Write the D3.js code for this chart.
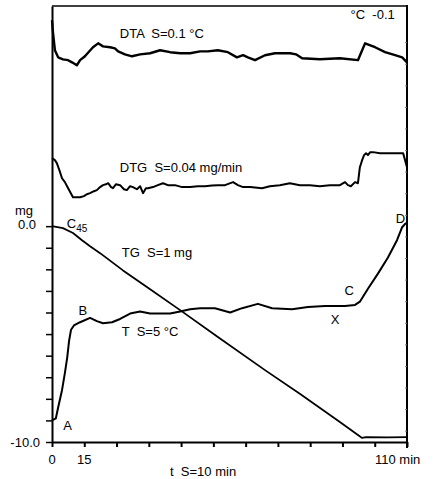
<!DOCTYPE html>
<html>
<head>
<meta charset="utf-8">
<script src="https://cdn.jsdelivr.net/npm/d3@7"></script>
<style>
  body { margin: 0; background: #fff; }
  text { font-family: "Liberation Sans", Arial, sans-serif; fill: #000; white-space: pre; }
</style>
</head>
<body>
<div id="chart"></div>
<script>
// DATA (time in min, values in mg-axis divisions; TG in mg)
const tgTime = [0, 3.4, 6.5, 9.3, 11.8, 14.9, 22, 29.4, 39.7, 51.4, 66.0, 76.9, 89.2, 96.1, 97.3, 104, 110];
const tgValue = [0, -0.09, -0.32, -0.65, -0.93, -1.25, -2.05, -2.82, -3.89, -5.14, -6.67, -7.78, -9.07, -9.81, -9.77, -9.79, -9.77];

const tTime = [0, 1.2, 1.9, 3.1, 4.0, 4.7, 5.3, 5.9, 6.8, 8.7, 11.8, 13.9, 15.8, 18.6, 21.1, 24.2, 27.3, 30.4, 33.5, 36.6, 39.7, 42.8, 45.9, 50.5, 55.2, 58.9, 63.8, 68.2, 74.4, 79.3, 84.6, 90.8, 93.9, 95.4, 97.9, 101.0, 104.1, 106.9, 108.5, 109.7];
const tValue = [-9.0, -8.9, -8.4, -7.6, -6.8, -6.1, -5.3, -4.8, -4.6, -4.45, -4.25, -4.4, -4.5, -4.45, -4.3, -4.05, -3.95, -4.05, -4.05, -4.05, -3.95, -3.85, -3.8, -3.8, -4.0, -3.8, -3.6, -3.8, -3.85, -3.75, -3.7, -3.7, -3.65, -3.5, -2.9, -2.2, -1.45, -0.65, -0.05, 0.15];

const dtaTime = [0, 0.3, 0.9, 1.9, 3.4, 5.0, 6.2, 7.7, 8.7, 10.2, 12.7, 14.3, 15.8, 18.0, 19.5, 20.5, 22.6, 24.8, 27.3, 30.4, 33.5, 36.6, 39.7, 42.8, 45.9, 48.3, 51.4, 54.5, 57.3, 59.2, 60.7, 62.9, 66.0, 69.1, 73.8, 75.6, 77.5, 83.0, 89.2, 94.8, 96.1, 97.0, 100.1, 103.2, 106.3, 108.5, 110];
const dtaValue = [9.54, 8.98, 8.15, 7.82, 7.73, 7.69, 7.59, 7.45, 7.69, 7.87, 8.29, 8.47, 8.33, 8.29, 8.24, 8.10, 7.96, 7.87, 7.96, 8.01, 8.15, 8.06, 8.01, 8.01, 8.10, 8.10, 8.15, 8.06, 7.82, 7.92, 7.82, 7.69, 7.92, 8.01, 8.01, 7.96, 7.78, 7.73, 7.78, 7.69, 8.15, 8.47, 8.29, 8.06, 7.92, 7.82, 7.59];

const dtgTime = [0, 0.9, 1.5, 2.5, 3.1, 4.0, 5.0, 6.5, 8.7, 9.9, 10.8, 11.8, 13.0, 13.9, 14.9, 15.8, 16.7, 17.4, 18.3, 18.9, 19.8, 21.1, 22.3, 23.2, 24.2, 25.1, 26.3, 27.3, 28.2, 29.1, 29.7, 31.3, 32.8, 34.4, 35.9, 38.1, 40.3, 42.8, 45.2, 47.4, 49.6, 51.4, 53.6, 56.1, 57.6, 59.2, 61.4, 65.1, 67.5, 70.6, 73.7, 76.8, 79.9, 83.0, 86.1, 89.2, 90.8, 91.7, 92.6, 93.9, 94.8, 95.4, 96.1, 96.7, 97.3, 97.9, 98.6, 99.5, 101.6, 104.7, 107.2, 108.8, 109.4, 110];
const dtgValue = [3.15, 3.06, 2.92, 2.50, 2.22, 2.04, 1.76, 1.34, 1.34, 1.39, 1.48, 1.53, 1.62, 1.67, 1.81, 1.90, 1.94, 1.99, 1.81, 1.76, 1.94, 1.90, 1.71, 1.67, 1.85, 1.81, 1.71, 1.85, 1.53, 1.76, 1.76, 1.81, 1.90, 1.99, 1.90, 1.90, 1.81, 1.81, 1.85, 1.85, 1.88, 1.90, 1.90, 2.04, 1.90, 1.81, 1.81, 1.76, 1.85, 1.90, 1.99, 1.90, 1.90, 1.85, 1.90, 1.90, 2.04, 1.90, 1.85, 2.04, 1.99, 2.73, 3.06, 3.29, 3.38, 3.29, 3.43, 3.43, 3.38, 3.38, 3.38, 3.38, 3.06, 2.73];

const mgTicks = d3.range(-10, 1);
const timeTicks = d3.range(0, 111, 10);

// SETTINGS
const width = 435;
const height = 479;
const margin = { top: 6, right: 28, bottom: 37, left: 52 };
const graphWidth = width - margin.left - margin.right;
const graphHeight = height - margin.top - margin.bottom;
const ink = '#000';

// SCALES
const x = d3.scaleLinear().domain([0, 110]).range([0, graphWidth]);
const y = d3.scaleLinear().domain([-10, 10.2]).range([graphHeight, 0]);

// LINE PATH GENERATOR
const line = d3.line()
  .x(d => x(d[0]))
  .y(d => y(d[1]))
  .curve(d3.curveLinear);

const zip = (a, b) => a.map((v, i) => [v, b[i]]);

const svg = d3.select('#chart')
  .append('svg')
  .attr('width', width)
  .attr('height', height);

const graph = svg.append('g')
  .attr('transform', `translate(${margin.left}, ${margin.top})`);

// FRAME
graph.append('line')
  .attr('x1', 0).attr('x2', graphWidth)
  .attr('y1', 0).attr('y2', 0)
  .attr('stroke', ink).attr('stroke-width', 1.5);

graph.append('line')
  .attr('x1', graphWidth).attr('x2', graphWidth)
  .attr('y1', -1).attr('y2', graphHeight + 6)
  .attr('stroke', ink).attr('stroke-width', 2);

// faint inner ticks on the right side
graph.append('g')
  .selectAll('line')
  .data(d3.range(-9.5, 9, 1))
  .enter()
  .append('line')
  .attr('x1', graphWidth - 2).attr('x2', graphWidth)
  .attr('y1', d => y(d)).attr('y2', d => y(d))
  .attr('stroke', '#777').attr('stroke-width', 1);

// AXES
const yAxis = d3.axisLeft(y)
  .tickValues(mgTicks)
  .tickSize(6)
  .tickSizeOuter(0)
  .tickFormat('');

const xAxis = d3.axisBottom(x)
  .tickValues(timeTicks)
  .tickSize(5)
  .tickSizeOuter(0)
  .tickFormat('');

const yAxisGroup = graph.append('g').call(yAxis);
yAxisGroup.select('.domain').attr('stroke-width', 2);
yAxisGroup.selectAll('.tick line').attr('stroke-width', 1.5);

const xAxisGroup = graph.append('g')
  .attr('transform', `translate(0, ${graphHeight})`)
  .call(xAxis);
xAxisGroup.select('.domain').attr('stroke-width', 2);
xAxisGroup.selectAll('.tick line').attr('stroke-width', 2);

// CURVES
const curves = [
  { data: zip(dtaTime, dtaValue), w: 2.4 },
  { data: zip(dtgTime, dtgValue), w: 2 },
  { data: zip(tgTime, tgValue), w: 1.8 },
  { data: zip(tTime, tValue), w: 2 }
];

graph.selectAll('path.curve')
  .data(curves)
  .enter()
  .append('path')
  .attr('class', 'curve')
  .attr('fill', 'none')
  .attr('stroke', ink)
  .attr('stroke-linejoin', 'round')
  .attr('stroke-width', d => d.w)
  .attr('d', d => line(d.data));

// LABELS
const fs = 13;
const label = (txt, tx, ty, anchor, size) => svg.append('text')
  .attr('x', tx).attr('y', ty)
  .attr('text-anchor', anchor || 'start')
  .attr('font-size', size || fs)
  .text(txt);

const px = v => margin.left + x(v);
const py = v => margin.top + y(v);

label('DTA  S=0.1 °C', px(21), py(8.95) + 5);
label('°C  -0.1', px(92.5), py(9.85) + 5);
label('DTG  S=0.04 mg/min', px(21), py(2.73) + 5);
label('TG  S=1 mg', px(21.6), py(-1.2) + 5);
label('T  S=5 °C', px(21.6), py(-4.85) + 5);

const c45 = label('C', px(4.6), py(0.14) + 5);
c45.append('tspan').attr('font-size', 10).attr('dy', 4).text('45');

label('B', px(8.2), py(-3.9) + 5);
label('A', px(3.5), py(-9.2) + 5);
label('C', px(90.6), py(-2.95) + 5);
label('X', px(86.4), py(-4.3) + 5);
label('D', px(106.5), py(0.4) + 5);

// axis text
label('mg', 15, py(0.77) + 5);
label('0.0', 36, py(0.09) + 5, 'end');
label('-10.0', 40, py(-10) + 5, 'end');
label('0', px(0), 464, 'middle');
label('15', px(10), 464, 'middle');
label('t  S=10 min', 170, 476);
label('110 min', 375, 464);
</script>
</body>
</html>
